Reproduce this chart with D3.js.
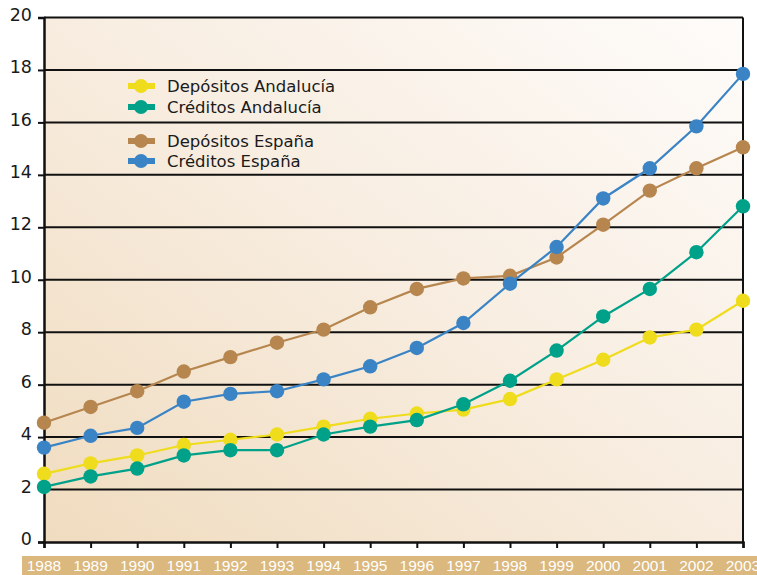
<!DOCTYPE html>
<html>
<head>
<meta charset="utf-8">
<script src="https://cdn.jsdelivr.net/npm/d3@7"></script>
<style>
body{margin:0;background:#fff;}
svg{display:block;}
</style>
</head>
<body>
<svg id="chart"></svg>
<script>
const years = [1988,1989,1990,1991,1992,1993,1994,1995,1996,1997,1998,1999,2000,2001,2002,2003];
const depAndalucia = [2.6,3.0,3.3,3.7,3.9,4.1,4.4,4.7,4.9,5.05,5.45,6.2,6.95,7.8,8.1,9.2];
const credAndalucia = [2.1,2.5,2.8,3.3,3.5,3.5,4.1,4.4,4.65,5.25,6.15,7.3,8.6,9.65,11.05,12.8];
const depEspana = [4.55,5.15,5.75,6.5,7.05,7.6,8.1,8.95,9.65,10.05,10.15,10.85,12.1,13.4,14.25,15.05];
const credEspana = [3.6,4.05,4.35,5.35,5.65,5.75,6.2,6.7,7.4,8.35,9.85,11.25,13.1,14.25,15.85,17.85];
const yTicks = [0,2,4,6,8,10,12,14,16,18,20];

const series = [
  {name:"Depósitos Andalucía", color:"#efdc1c", values:depAndalucia},
  {name:"Créditos Andalucía", color:"#00a189", values:credAndalucia},
  {name:"Depósitos España", color:"#b7864f", values:depEspana},
  {name:"Créditos España", color:"#3a84c6", values:credEspana}
];

const width = 757, height = 575;
const plot = {left:44, right:743, top:17.5, bottom:542};

const svg = d3.select("#chart").attr("width",width).attr("height",height);

const x = d3.scaleLinear().domain([1988,2003]).range([plot.left,plot.right]);
const y = d3.scaleLinear().domain([0,20]).range([plot.bottom,plot.top]);

// background gradient
const defs = svg.append("defs");
const grad = defs.append("linearGradient").attr("id","bg")
  .attr("x1","0").attr("y1","1").attr("x2","1").attr("y2","0");
grad.append("stop").attr("offset","0").attr("stop-color","#f0dcbf");
grad.append("stop").attr("offset","0.55").attr("stop-color","#f8eee2");
grad.append("stop").attr("offset","1").attr("stop-color","#fefcfa");

svg.append("rect")
  .attr("x",plot.left).attr("y",plot.top)
  .attr("width",plot.right-plot.left).attr("height",plot.bottom-plot.top)
  .attr("fill","url(#bg)");

// gridlines
svg.append("g").selectAll("line")
  .data(yTicks.filter(d=>d>0))
  .join("line")
  .attr("x1",plot.left).attr("x2",plot.right)
  .attr("y1",d=>y(d)).attr("y2",d=>y(d))
  .attr("stroke","#111").attr("stroke-width",2);

// right border
svg.append("line")
  .attr("x1",plot.right).attr("x2",plot.right).attr("y1",plot.top).attr("y2",plot.bottom)
  .attr("stroke","#111").attr("stroke-width",2);

// y axis
const yAxis = d3.axisLeft(y).tickValues(yTicks).tickSize(6).tickPadding(6);
const yg = svg.append("g").attr("transform",`translate(${plot.left},0)`).call(yAxis);
yg.select(".domain").attr("stroke","#111").attr("stroke-width",2.5);
yg.selectAll(".tick line").attr("stroke","#111").attr("stroke-width",2);
yg.selectAll(".tick text")
  .attr("font-family","'DejaVu Sans', sans-serif")
  .attr("font-size",17.5).attr("fill","#1a1a1a")
  .attr("dy","0.15em");

// x axis
const xAxis = d3.axisBottom(x).tickValues(years).tickSize(6).tickFormat("");
const xg = svg.append("g").attr("transform",`translate(0,${plot.bottom})`).call(xAxis);
xg.select(".domain").attr("stroke","#111").attr("stroke-width",2.5);
xg.selectAll(".tick line").attr("stroke","#111").attr("stroke-width",2);

// label band
svg.append("rect")
  .attr("x",22).attr("y",556).attr("width",width-22).attr("height",19)
  .attr("fill","#dbb87e");
svg.append("g").selectAll("text")
  .data(years)
  .join("text")
  .attr("x",d=>x(d)).attr("y",570.5)
  .attr("text-anchor","middle")
  .attr("font-family","'Liberation Sans', Arial, sans-serif")
  .attr("font-size",15.5).attr("fill","#fff")
  .text(d=>d);

// lines + points
const line = d3.line().x((d,i)=>x(years[i])).y(d=>y(d));
series.forEach(s=>{
  svg.append("path")
    .datum(s.values)
    .attr("d",line)
    .attr("fill","none")
    .attr("stroke",s.color)
    .attr("stroke-width",2.2);
  svg.append("g").selectAll("circle")
    .data(s.values)
    .join("circle")
    .attr("cx",(d,i)=>x(years[i]))
    .attr("cy",d=>y(d))
    .attr("r",7.2)
    .attr("fill",s.color);
});

// legend
const legendY = [86,107,141,161];
const legend = svg.append("g");
series.forEach((s,i)=>{
  const g = legend.append("g").attr("transform",`translate(0,${legendY[i]})`);
  g.append("line").attr("x1",128).attr("x2",155).attr("y1",0).attr("y2",0)
    .attr("stroke",s.color).attr("stroke-width",6);
  g.append("circle").attr("cx",141).attr("cy",0).attr("r",7).attr("fill",s.color);
  g.append("text").attr("x",167).attr("y",6)
    .attr("font-family","'DejaVu Sans', sans-serif")
    .attr("font-size",16.5).attr("fill","#1a1a1a")
    .text(s.name);
});
</script>
</body>
</html>
